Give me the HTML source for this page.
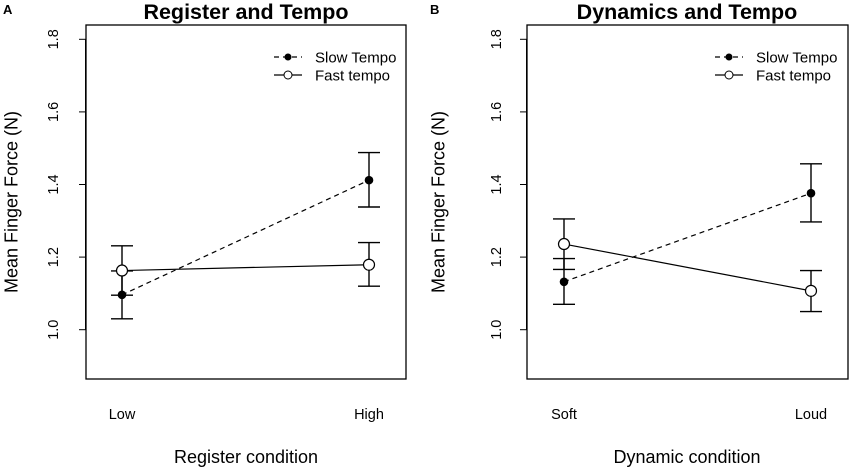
<!DOCTYPE html>
<html><head><meta charset="utf-8"><style>
body{margin:0;background:#fff}
svg text{font-family:"Liberation Sans",Arial,sans-serif;fill:#000}
</style></head><body>
<svg id="chart" width="850" height="469" viewBox="0 0 850 469" xmlns="http://www.w3.org/2000/svg"></svg>
<script>
const yTicks=[1.0,1.2,1.4,1.6,1.8];
const titlesArr=["Register and Tempo","Dynamics and Tempo"];
const panelLetters=["A","B"];
const catsA=["Low","High"];
const catsB=["Soft","Loud"];
const xTitles=["Register condition","Dynamic condition"];
const slowA=[1.096,1.412], slowALo=[1.030,1.338], slowAHi=[1.162,1.488];
const fastA=[1.163,1.179], fastALo=[1.095,1.120], fastAHi=[1.231,1.240];
const slowB=[1.132,1.376], slowBLo=[1.070,1.297], slowBHi=[1.196,1.457];
const fastB=[1.236,1.107], fastBLo=[1.166,1.050], fastBHi=[1.305,1.163];
const legendLabels=["Slow Tempo","Fast tempo"];

const svg=document.getElementById('chart');
const NS="http://www.w3.org/2000/svg";
function mk(tag,attrs,parent){const e=document.createElementNS(NS,tag);for(const k in attrs)e.setAttribute(k,attrs[k]);(parent||svg).appendChild(e);return e;}
function yScale(v){return 329.7-(v-1.0)*363;}

const panels=[
 {bx:86,bw:320,x0:122,x1:369,ylab:53,cats:catsA,slow:slowA,slo:slowALo,shi:slowAHi,fast:fastA,flo:fastALo,fhi:fastAHi,tx:246,lx:3,legx:274},
 {bx:527,bw:321,x0:564,x1:811,ylab:496,cats:catsB,slow:slowB,slo:slowBLo,shi:slowBHi,fast:fastB,flo:fastBLo,fhi:fastBHi,tx:687,lx:430,legx:715}
];
panels.forEach((p,i)=>{
 const g=mk('g',{});
 
 
 const xs=v=>p.x0+v*(p.x1-p.x0);
 const box=mk('rect',{x:p.bx,y:25,width:p.bw,height:354,fill:'none',stroke:'#000','stroke-width':1.3},g);
 
 
 const t=mk('text',{x:p.tx,y:19,'font-size':21.5,'font-weight':'bold','text-anchor':'middle'},g);t.textContent=titlesArr[i];
 
 
 const L=mk('text',{x:p.lx,y:14,'font-size':13,'font-weight':'bold'},g);L.textContent=panelLetters[i];
 
 
 yTicks.forEach(v=>{
  const y=yScale(v);
  mk('line',{x1:p.bx-7,x2:p.bx,y1:y,y2:y,stroke:'#000','stroke-width':1},g);
  const tl=mk('text',{x:p.ylab,y:y,'font-size':14.5,'text-anchor':'middle',transform:`rotate(-90 ${p.ylab} ${y})`,dy:'0.35em'},g);tl.textContent=v.toFixed(1);
  
  
 });
 mk('line',{x1:p.bx-0.5,x2:p.bx-0.5,y1:yScale(1.0),y2:yScale(1.8),stroke:'#000','stroke-width':1},g);
 const yt=mk('text',{x:p.lx+8,y:202,'font-size':18,'text-anchor':'middle',transform:`rotate(-90 ${p.lx+8} 202)`,dy:'0.35em'},g);yt.textContent="Mean Finger Force (N)";
 
 
 p.cats.forEach((c,j)=>{const ct=mk('text',{x:xs(j),y:419,'font-size':14.5,'text-anchor':'middle'},g);ct.textContent=c;
  
  });
 const xt=mk('text',{x:p.tx,y:463,'font-size':18,'text-anchor':'middle'},g);xt.textContent=xTitles[i];
 
 
 [[p.slow,p.slo,p.shi],[p.fast,p.flo,p.fhi]].forEach(([m,lo,hi])=>{
  m.forEach((v,j)=>{const x=xs(j);
   const eb=mk('path',{d:`M${x},${yScale(lo[j])}V${yScale(hi[j])}M${x-11},${yScale(lo[j])}H${x+11}M${x-11},${yScale(hi[j])}H${x+11}`,stroke:'#000','stroke-width':1.4,fill:'none'},g);
   
   });
 });
 const sl=mk('line',{x1:xs(0),y1:yScale(p.slow[0]),x2:xs(1),y2:yScale(p.slow[1]),stroke:'#000','stroke-width':1.2,'stroke-dasharray':'5,4'},g);
 
 
 const fl=mk('line',{x1:xs(0),y1:yScale(p.fast[0]),x2:xs(1),y2:yScale(p.fast[1]),stroke:'#000','stroke-width':1.2},g);
 
 
 p.slow.forEach((v,j)=>{const c=mk('circle',{cx:xs(j),cy:yScale(v),r:4.3,fill:'#000'},g);
  
  });
 p.fast.forEach((v,j)=>{const c=mk('circle',{cx:xs(j),cy:yScale(v),r:5.5,fill:'#fff',stroke:'#000','stroke-width':1.2},g);
  
  });
 const lg=mk('g',{},g);
 
 
 mk('line',{x1:p.legx,x2:p.legx+28,y1:57,y2:57,stroke:'#000','stroke-width':1.2,'stroke-dasharray':'5,4'},lg);
 mk('circle',{cx:p.legx+14,cy:57,r:3.5,fill:'#000'},lg);
 mk('line',{x1:p.legx,x2:p.legx+28,y1:75,y2:75,stroke:'#000','stroke-width':1.2},lg);
 mk('circle',{cx:p.legx+14,cy:75,r:4,fill:'#fff',stroke:'#000'},lg);
 legendLabels.forEach((s,k)=>{const lt=mk('text',{x:p.legx+41,y:62.5+18*k,'font-size':15,},lg);lt.textContent=s;
  
  });
});
</script>
</body></html>
